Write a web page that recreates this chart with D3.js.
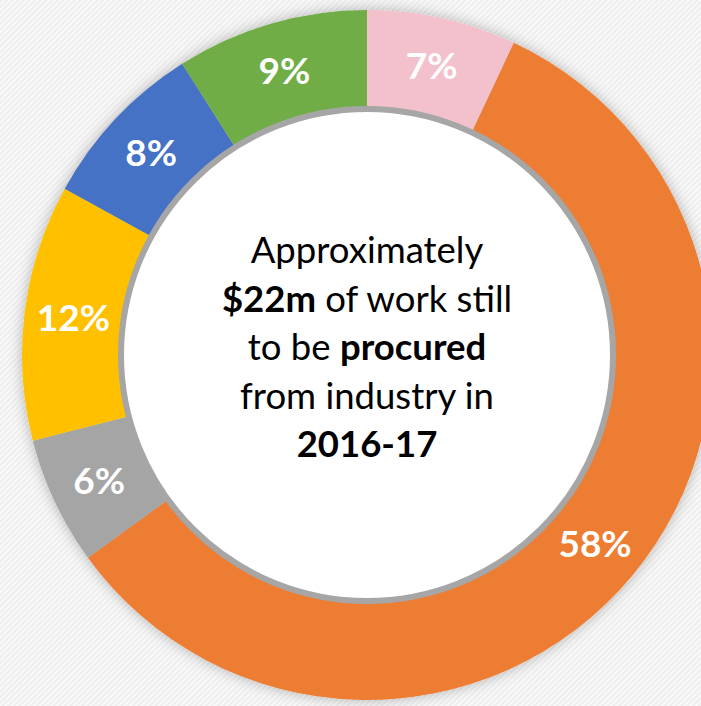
<!DOCTYPE html>
<html>
<head>
<meta charset="utf-8">
<script src="https://cdnjs.cloudflare.com/ajax/libs/d3/7.8.5/d3.min.js"></script>
<style>
  body { margin: 0; background: #fff; }
  svg { display: block; }
</style>
</head>
<body>
<div id="chart"></div>
<script>
// chart size
var svgWidth = 701;
var svgHeight = 706;

// data, clockwise from 12 o'clock
var shares = [7, 58, 6, 12, 8, 9];
var sliceColors = ["#F3C1CC", "#ED7D31", "#A5A5A5", "#FFC000", "#4472C4", "#70AD47"];

// centre text, each line as [text, bold] pieces
var centreLines = [
  [["Approximately", false]],
  [["$22m", true], [" of work still", false]],
  [["to be ", false], ["procured", true]],
  [["from industry in", false]],
  [["2016-17", true]]
];

var cx = 367, cy = 355;
var outerR = 345;
var innerR = 247;

var svg = d3.select("#chart")
  .append("svg")
  .attr("width", svgWidth)
  .attr("height", svgHeight);

var defs = svg.append("defs");

// striped background
var pat = defs.append("pattern")
  .attr("id", "stripes")
  .attr("patternUnits", "userSpaceOnUse")
  .attr("width", 4)
  .attr("height", 4)
  .attr("patternTransform", "rotate(45)");
pat.append("rect").attr("width", 4).attr("height", 4).attr("fill", "#f9f9f9");
pat.append("rect").attr("width", 2).attr("height", 4).attr("fill", "#eeeeee");

// soft shadow round the ring
var shadow = defs.append("filter")
  .attr("id", "shadow")
  .attr("x", "-20%").attr("y", "-20%")
  .attr("width", "140%").attr("height", "140%");
shadow.append("feDropShadow")
  .attr("dx", 0).attr("dy", 0)
  .attr("stdDeviation", 7)
  .attr("flood-color", "#000")
  .attr("flood-opacity", 0.28);

svg.append("rect")
  .attr("width", svgWidth)
  .attr("height", svgHeight)
  .attr("fill", "url(#stripes)");

var g = svg.append("g")
  .attr("transform", `translate(${cx}, ${cy})`);

var pie = d3.pie().sort(null).value(d => d);
var arcs = pie(shares);

var arc = d3.arc().innerRadius(innerR).outerRadius(outerR);
var labelArc = d3.arc().innerRadius(296).outerRadius(296);

// ring
var ring = g.append("g").attr("filter", "url(#shadow)");
ring.selectAll("path")
  .data(arcs)
  .enter()
  .append("path")
  .attr("d", arc)
  .attr("fill", (d, i) => sliceColors[i]);

// inner white disc with grey edge
g.append("circle")
  .attr("r", innerR - 1)
  .attr("fill", "#fff")
  .attr("stroke", "#a6a6a6")
  .attr("stroke-width", 6);

// percent labels
g.selectAll("text.pct")
  .data(arcs)
  .enter()
  .append("text")
  .attr("class", "pct")
  .attr("transform", d => `translate(${labelArc.centroid(d)})`)
  .attr("text-anchor", "middle")
  .attr("dy", "0.36em")
  .attr("font-family", "Lato, 'Open Sans', sans-serif")
  .attr("font-weight", "bold")
  .attr("font-size", "37px")
  .attr("fill", "#fff")
  .text(d => d.data + "%");

// centre text
var lineGap = 48.5;
var firstBase = 263 - cy;
var centreText = g.append("text")
  .attr("text-anchor", "middle")
  .attr("font-family", "Lato, 'Open Sans', sans-serif")
  .attr("font-size", "36.5px")
  .attr("fill", "#000");

centreLines.forEach(function(line, i) {
  line.forEach(function(part, j) {
    var span = centreText.append("tspan")
      .attr("font-weight", part[1] ? "bold" : "normal")
      .style("white-space", "pre")
      .text(part[0]);
    if (j === 0) {
      span.attr("x", 0).attr("y", firstBase + i * lineGap);
    }
  });
});
</script>
</body>
</html>
